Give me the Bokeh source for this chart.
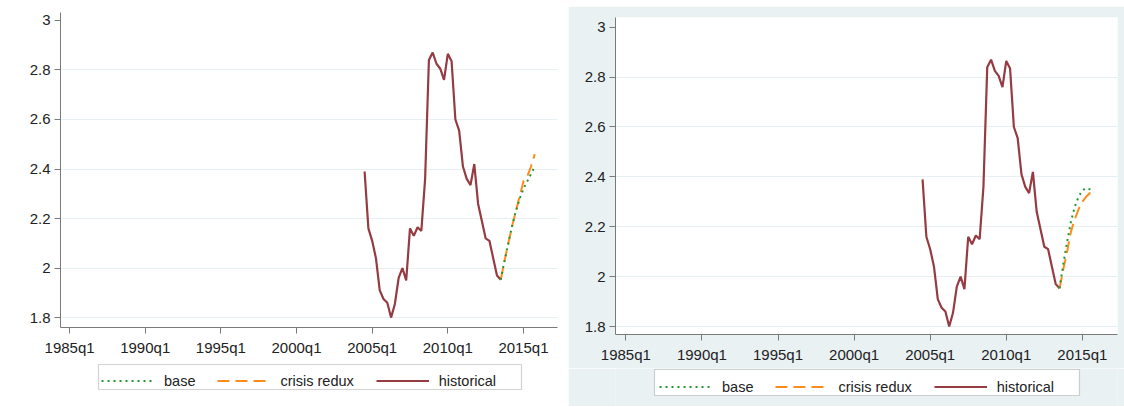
from bokeh.plotting import figure
from bokeh.layouts import row, column
from bokeh.models import FixedTicker, Legend, LegendItem, Range1d, BoxAnnotation
from bokeh.embed import file_html
from bokeh.resources import INLINE

# ---------------- data ----------------
hist_start = "2004q3"
hist_values = [2.39, 2.16, 2.11, 2.04, 1.91, 1.875, 1.86, 1.80, 1.855, 1.96,
               2.00, 1.95, 2.16, 2.13, 2.165, 2.15, 2.36, 2.84, 2.87, 2.825,
               2.805, 2.76, 2.865, 2.835, 2.60, 2.555, 2.41, 2.36, 2.335, 2.42,
               2.26, 2.19, 2.12, 2.11, 2.04, 1.97, 1.953]
fc_start = "2013q3"
base_left = [1.953, 2.03, 2.10, 2.17, 2.23, 2.28, 2.32, 2.35, 2.38, 2.41]
crisis_left = [1.953, 2.03, 2.10, 2.17, 2.23, 2.29, 2.35, 2.37, 2.41, 2.46]
base_right = [1.953, 2.05, 2.14, 2.22, 2.28, 2.32, 2.345, 2.355, 2.35, 2.34]
crisis_right = [1.953, 2.03, 2.10, 2.18, 2.23, 2.27, 2.30, 2.32, 2.335, 2.335]

tick_years = [1985, 1990, 1995, 2000, 2005, 2010, 2015]
tick_labels = ["1985q1", "1990q1", "1995q1", "2000q1", "2005q1", "2010q1", "2015q1"]
y_ticks = [1.8, 2.0, 2.2, 2.4, 2.6, 2.8, 3.0]
y_tick_labels = ["1.8", "2", "2.2", "2.4", "2.6", "2.8", "3"]
series_names = ["base", "crisis redux", "historical"]


def quarter_axis(start, n):
    y, q = start.split("q")
    t0 = int(y) + (int(q) - 1) / 4.0
    return [t0 + i / 4.0 for i in range(n)]


FONT = "Liberation Sans"
C_HIST = "#963b42"
C_BASE = "#22962f"
C_CRISIS = "#ff8c1a"
GRID = "#e6eff1"
AXIS = "#7a7a7a"
TEXT = "#222222"

STYLES = {
    "historical": dict(line_color=C_HIST, line_width=2.2),
    "crisis redux": dict(line_color=C_CRISIS, line_width=2, line_dash="12 6"),
    "base": dict(line_color=C_BASE, line_width=2, line_dash="2 4"),
}


def make_main(width, height, xr, yr, borders, bg, base_vals, crisis_vals):
    left, right, top, bottom = borders
    p = figure(width=width, height=height, output_backend="svg",
               toolbar_location=None,
               x_range=Range1d(*xr), y_range=Range1d(*yr),
               min_border_left=left, min_border_right=right,
               min_border_top=top, min_border_bottom=bottom)
    p.border_fill_color = bg
    p.background_fill_color = "white"
    p.outline_line_color = None

    p.xaxis.ticker = FixedTicker(ticks=tick_years)
    p.xaxis.major_label_overrides = {t: l for t, l in zip(tick_years, tick_labels)}
    p.yaxis.ticker = FixedTicker(ticks=y_ticks)
    p.yaxis.major_label_overrides = {t: l for t, l in zip(y_ticks, y_tick_labels)}
    for ax in (p.xaxis[0], p.yaxis[0]):
        ax.axis_line_color = AXIS
        ax.major_tick_line_color = AXIS
        ax.minor_tick_line_color = None
        ax.major_tick_in = 0
        ax.major_tick_out = 6
        ax.major_label_text_font = FONT
        ax.major_label_text_font_size = "15px"
        ax.major_label_text_color = TEXT
    p.xaxis.major_label_standoff = 5
    p.yaxis.major_label_standoff = 4

    p.xgrid.grid_line_color = None
    p.ygrid.ticker = FixedTicker(ticks=y_ticks[:-1])
    p.ygrid.grid_line_color = GRID
    p.ygrid.grid_line_width = 1.2

    hx = quarter_axis(hist_start, len(hist_values))
    fx = quarter_axis(fc_start, len(base_vals))
    p.line(hx, hist_values, **STYLES["historical"])
    p.line(fx, crisis_vals, **STYLES["crisis redux"])
    p.line(fx, base_vals, **STYLES["base"])
    return p


def make_legend_fig(width, height, bg, loc, box):
    q = figure(width=width, height=height, output_backend="svg",
               toolbar_location=None, x_range=Range1d(0, 1), y_range=Range1d(0, 1),
               min_border_left=0, min_border_right=0,
               min_border_top=0, min_border_bottom=0)
    q.axis.visible = False
    q.grid.visible = False
    q.outline_line_color = None
    q.border_fill_color = bg
    q.background_fill_color = bg

    # the legend frame (Stata-like, wider than its items)
    bl, br, bb, bt = box
    frame_box = BoxAnnotation(left=bl, right=br, bottom=bb, top=bt,
                              left_units="screen", right_units="screen",
                              bottom_units="screen", top_units="screen",
                              fill_color="white", fill_alpha=1.0,
                              line_color="#6e6e6e", line_width=1.2)
    q.add_layout(frame_box)

    items = []
    for name in series_names:
        # legend-only renderer, its two points lie outside the visible range
        r = q.line([-5, -4], [-5, -5], **STYLES[name])
        items.append(LegendItem(label=name, renderers=[r]))
    legend = Legend(items=items, orientation="horizontal", location=loc)
    legend.padding = 4
    legend.spacing = 22
    legend.glyph_width = 53
    legend.glyph_height = 17
    legend.label_height = 17
    legend.label_standoff = 10
    legend.label_text_font = FONT
    legend.label_text_font_size = "14.5px"
    legend.label_text_color = TEXT
    legend.border_line_color = None
    legend.background_fill_alpha = 0.0
    legend.margin = 0
    q.add_layout(legend, "center")
    return q


BG2 = "#e9f1f3"

m1 = make_main(568, 358, (1984.40, 2017.25), (1.76, 3.032),
               (60, 11, 12, 28), "white", base_left, crisis_left)
l1 = make_legend_fig(568, 49, "white", (41, 18), (38, 461, 18, 43))
c1 = column(m1, l1)

m2 = make_main(556, 362, (1984.32, 2017.31), (1.768, 3.039),
               (47, 7, 11, 34), BG2, base_right, crisis_right)
l2 = make_legend_fig(556, 38, BG2, (44, 11), (39, 464, 11, 37))
c2 = column(m2, l2)
c2.margin = (6, 0, 1, 0)

layout = row(c1, c2)
open("out.html", "w").write(file_html(layout, INLINE))
